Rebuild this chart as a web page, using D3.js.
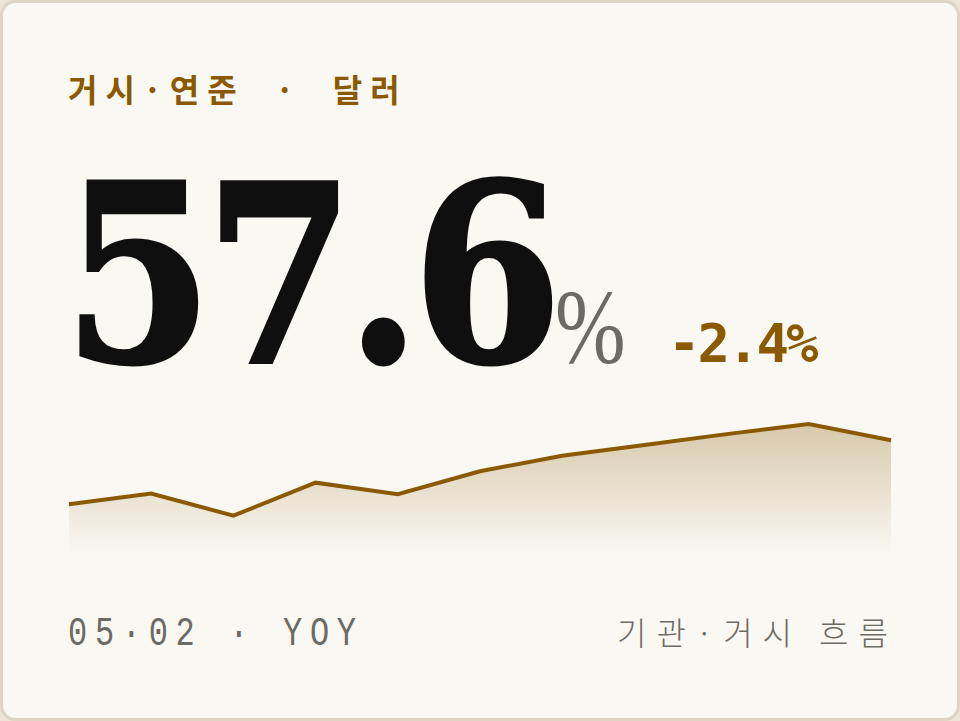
<!DOCTYPE html>
<html>
<head>
<meta charset="utf-8">
<script src="https://cdn.jsdelivr.net/npm/d3@7"></script>
<style>
  html, body { margin: 0; padding: 0; background: #ebe5d7; }
  svg { display: block; }
</style>
</head>
<body>
<script>
// Data
var TITLE = '거시·연준  ·  달러';
var VALUE = '57.6';
var UNIT = '%';
var DELTA = '-2.4%';
var FOOT_LEFT = '05·02 · YOY';
var FOOT_RIGHT = '기관·거시 흐름';
var SERIES = [48.1, 49.7, 46.4, 51.3, 49.6, 53.0, 55.3, 56.9, 58.5, 60.0, 57.6];

// Layout
var WIDTH = 960;
var HEIGHT = 721;
var GOLD = '#8b5a00';
var GRAY = '#6c6a65';
var INK = '#0f0f10';
var SPARK_LEFT = 69;
var SPARK_RIGHT = 891;
var SPARK_TOP = 424;
var SPARK_LOW = 515.7;
var SPARK_BOTTOM = 555;

var svg = d3.select('body').append('svg')
  .attr('width', WIDTH)
  .attr('height', HEIGHT);

var defs = svg.append('defs');
var grad = defs.append('linearGradient')
  .attr('id', 'spark-fill')
  .attr('x1', 0).attr('y1', 0)
  .attr('x2', 0).attr('y2', 1);
grad.append('stop').attr('offset', '0%').attr('stop-color', GOLD).attr('stop-opacity', 0.3);
grad.append('stop').attr('offset', '100%').attr('stop-color', GOLD).attr('stop-opacity', 0);

// Card
svg.append('rect')
  .attr('x', 1.5).attr('y', 1.5)
  .attr('width', WIDTH - 3).attr('height', HEIGHT - 3)
  .attr('rx', 14)
  .attr('fill', '#f9f8f3')
  .attr('stroke', '#ddd5c3')
  .attr('stroke-width', 3);

// Title
svg.append('text')
  .attr('x', 68).attr('y', 102)
  .attr('font-family', '"Noto Sans CJK KR", sans-serif')
  .attr('font-weight', 700)
  .attr('font-size', 32)
  .attr('letter-spacing', 8)
  .attr('fill', GOLD)
  .style('white-space', 'pre')
  .text(TITLE);

// Big number (condensed by a horizontal scale)
svg.append('text')
  .attr('transform', 'translate(63,362) scale(0.87,1)')
  .attr('font-family', '"DejaVu Serif", serif')
  .attr('font-weight', 700)
  .attr('font-size', 248)
  .attr('letter-spacing', -10)
  .attr('fill', INK)
  .attr('stroke', INK)
  .attr('stroke-width', 3)
  .text(VALUE);

svg.append('text')
  .attr('transform', 'translate(555,363) scale(0.8,1)')
  .attr('font-family', '"Liberation Serif", serif')
  .attr('font-size', 106)
  .attr('fill', GRAY)
  .text(UNIT);

svg.append('text')
  .attr('x', 668).attr('y', 362)
  .attr('font-family', '"DejaVu Sans Mono", monospace')
  .attr('font-weight', 700)
  .attr('font-size', 54)
  .attr('letter-spacing', -3)
  .attr('fill', GOLD)
  .text(DELTA);

// Sparkline
var x = d3.scaleLinear()
  .domain([0, SERIES.length - 1])
  .range([SPARK_LEFT, SPARK_RIGHT]);

var y = d3.scaleLinear()
  .domain(d3.extent(SERIES))
  .range([SPARK_LOW, SPARK_TOP]);

var area = d3.area()
  .x(function (d, i) { return x(i); })
  .y0(SPARK_BOTTOM)
  .y1(function (d) { return y(d); });

var line = d3.line()
  .x(function (d, i) { return x(i); })
  .y(function (d) { return y(d); });

svg.append('path')
  .attr('d', area(SERIES))
  .attr('fill', 'url(#spark-fill)');

svg.append('path')
  .attr('d', line(SERIES))
  .attr('fill', 'none')
  .attr('stroke', GOLD)
  .attr('stroke-width', 4);

// Footer
svg.append('text')
  .attr('transform', 'translate(68,645) scale(0.8,1)')
  .attr('font-family', '"Liberation Mono", monospace')
  .attr('font-size', 40)
  .attr('letter-spacing', 9.6)
  .attr('fill', GRAY)
  .style('white-space', 'pre')
  .text(FOOT_LEFT);

svg.append('text')
  .attr('x', 898).attr('y', 645)
  .attr('text-anchor', 'end')
  .attr('font-family', '"Noto Sans CJK KR", sans-serif')
  .attr('font-weight', 300)
  .attr('font-size', 32)
  .attr('letter-spacing', 10)
  .attr('fill', GRAY)
  .style('white-space', 'pre')
  .text(FOOT_RIGHT);
</script>
</body>
</html>
